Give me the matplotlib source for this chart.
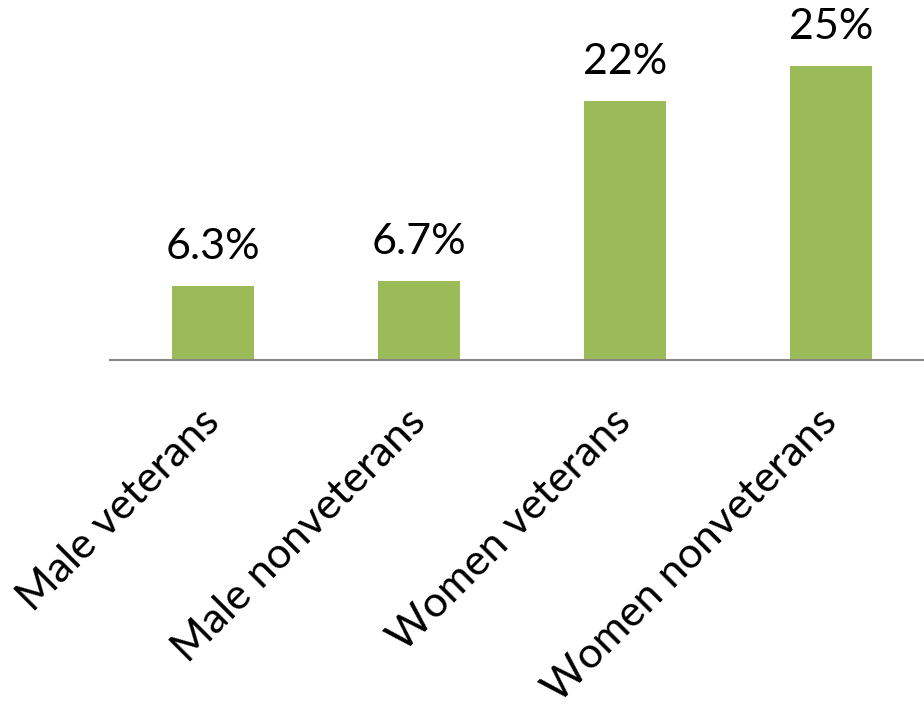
import matplotlib
matplotlib.use("Agg")
import matplotlib.pyplot as plt

categories = ["Male veterans", "Male nonveterans", "Women veterans", "Women nonveterans"]
values = [6.3, 6.7, 22, 25]
value_labels = ["6.3%", "6.7%", "22%", "25%"]

plt.rcParams['font.family'] = ['Lato', 'DejaVu Sans']

W, H = 924, 708
fig = plt.figure(figsize=(W / 100, H / 100), dpi=100)
left_px, base_px, width_px, top_px = 110, 360, 824, 20
ax = fig.add_axes([left_px / W, (H - base_px) / H, width_px / W, (base_px - top_px) / H])

x = range(len(categories))
bars = ax.bar(x, values, width=0.4, color="#9BBB59")
ax.set_xlim(-0.5, 3.5)
ax.set_ylim(0, (base_px - top_px) / 11.76)

for xi, v, lab in zip(x, values, value_labels):
    ax.annotate(lab, (xi, v), xytext=(0, 20), textcoords="offset pixels",
                ha="center", va="bottom", fontsize=31, color="black")

for s in ["top", "right", "left"]:
    ax.spines[s].set_visible(False)
ax.spines["bottom"].set_color("#888888")
ax.spines["bottom"].set_linewidth(1.5)
ax.set_yticks([])
ax.set_xticks(list(x))
ax.set_xticklabels(categories, rotation=45, ha="right", rotation_mode="anchor", fontsize=31)
ax.tick_params(axis="x", length=0, pad=40)
for t in ax.get_xticklabels():
    t.set_va("center")

fig.savefig("out.png", dpi=100)
